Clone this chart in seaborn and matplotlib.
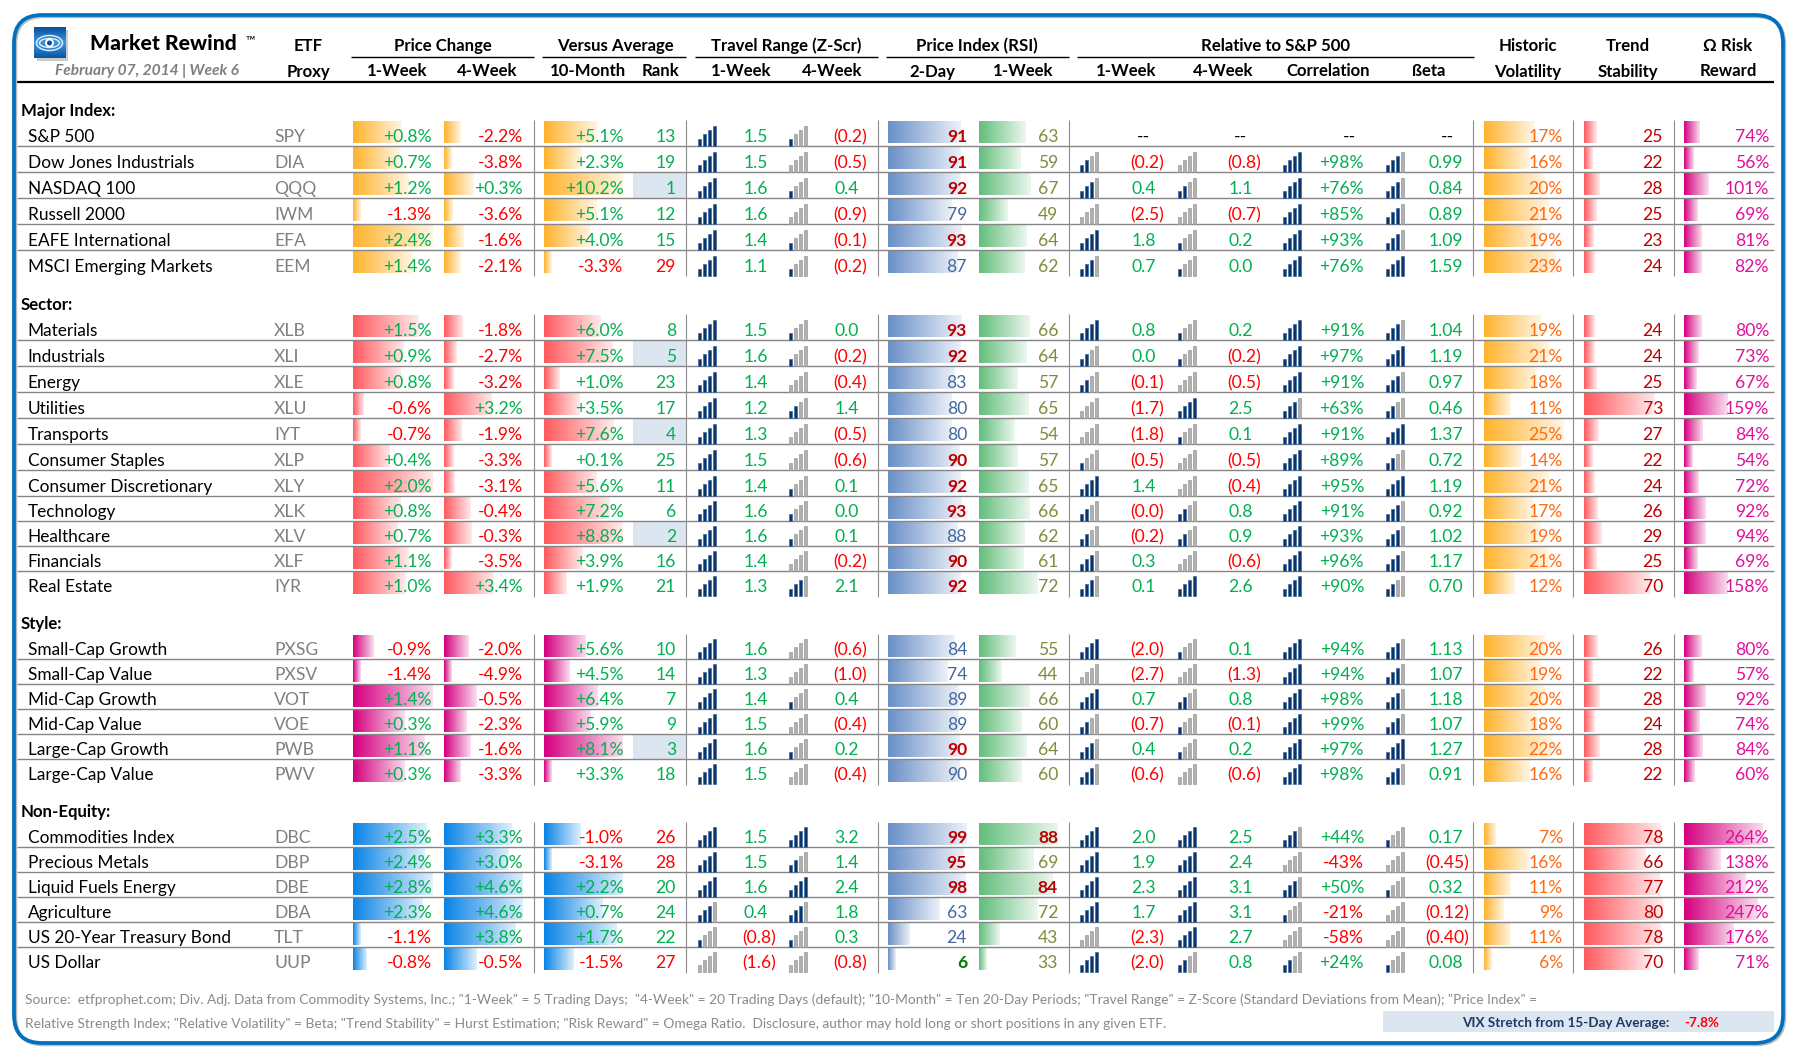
#!/usr/bin/env python3
import math

import matplotlib
matplotlib.use("Agg")
import matplotlib.pyplot as plt
import numpy as np
import pandas as pd
import seaborn as sns
from matplotlib.colors import LinearSegmentedColormap, to_rgb
from matplotlib.patches import Ellipse, FancyBboxPatch, Rectangle

group_names = ["Major Index:", "Sector:", "Style:", "Non-Equity:"]
group_sizes = [6, 11, 6, 6]

names = [
    "S&P 500", "Dow Jones Industrials", "NASDAQ 100", "Russell 2000", "EAFE International", "MSCI Emerging Markets",
    "Materials", "Industrials", "Energy", "Utilities", "Transports", "Consumer Staples", "Consumer Discretionary",
    "Technology", "Healthcare", "Financials", "Real Estate",
    "Small-Cap Growth", "Small-Cap Value", "Mid-Cap Growth", "Mid-Cap Value", "Large-Cap Growth", "Large-Cap Value",
    "Commodities Index", "Precious Metals", "Liquid Fuels Energy", "Agriculture", "US 20-Year Treasury Bond", "US Dollar",
]
tickers = [
    "SPY", "DIA", "QQQ", "IWM", "EFA", "EEM",
    "XLB", "XLI", "XLE", "XLU", "IYT", "XLP", "XLY", "XLK", "XLV", "XLF", "IYR",
    "PXSG", "PXSV", "VOT", "VOE", "PWB", "PWV",
    "DBC", "DBP", "DBE", "DBA", "TLT", "UUP",
]

chg_1w = [.8, .7, 1.2, -1.3, 2.4, 1.4,
          1.5, .9, .8, -.6, -.7, .4, 2.0, .8, .7, 1.1, 1.0,
          -.9, -1.4, 1.4, .3, 1.1, .3,
          2.5, 2.4, 2.8, 2.3, -1.1, -.8]
chg_4w = [-2.2, -3.8, .3, -3.6, -1.6, -2.1,
          -1.8, -2.7, -3.2, 3.2, -1.9, -3.3, -3.1, -.4, -.3, -3.5, 3.4,
          -2.0, -4.9, -.5, -2.3, -1.6, -3.3,
          3.3, 3.0, 4.6, 4.6, 3.8, -.5]
avg_10m = [5.1, 2.3, 10.2, 5.1, 4.0, -3.3,
           6.0, 7.5, 1.0, 3.5, 7.6, .1, 5.6, 7.2, 8.8, 3.9, 1.9,
           5.6, 4.5, 6.4, 5.9, 8.1, 3.3,
           -1.0, -3.1, 2.2, .7, 1.7, -1.5]
rank = [13, 19, 1, 12, 15, 29,
        8, 5, 23, 17, 4, 25, 11, 6, 2, 16, 21,
        10, 14, 7, 9, 3, 18,
        26, 28, 20, 24, 22, 27]
z_1w = [1.5, 1.5, 1.6, 1.6, 1.4, 1.1,
        1.5, 1.6, 1.4, 1.2, 1.3, 1.5, 1.4, 1.6, 1.6, 1.4, 1.3,
        1.6, 1.3, 1.4, 1.5, 1.6, 1.5,
        1.5, 1.5, 1.6, .4, -.8, -1.6]
z_4w = [-.2, -.5, .4, -.9, -.1, -.2,
        0.0, -.2, -.4, 1.4, -.5, -.6, .1, 0.0, .1, -.2, 2.1,
        -.6, -1.0, .4, -.4, .2, -.4,
        3.2, 1.4, 2.4, 1.8, .3, -.8]
rsi_2d = [91, 91, 92, 79, 93, 87,
          93, 92, 83, 80, 80, 90, 92, 93, 88, 90, 92,
          84, 74, 89, 89, 90, 89.9,
          99, 95, 98, 63, 24, 6]
rsi_1w = [63, 59, 67, 49, 64, 62,
          66, 64, 57, 65, 54, 57, 65, 66, 62, 61, 72,
          55, 44, 66, 60, 64, 60,
          88, 69, 84, 72, 43, 33]
rel_1w = [None, -.2, .4, -2.5, 1.8, .7,
          .8, 0.0, -.1, -1.7, -1.8, -.5, 1.4, -0.0, -.2, .3, .1,
          -2.0, -2.7, .7, -.7, .4, -.6,
          2.0, 1.9, 2.3, 1.7, -2.3, -2.0]
rel_4w = [None, -.8, 1.1, -.7, .2, 0.0,
          .2, -.2, -.5, 2.5, .1, -.5, -.4, .8, .9, -.6, 2.6,
          .1, -1.3, .8, -.1, .2, -.6,
          2.5, 2.4, 3.1, 3.1, 2.7, .8]
corr = [None, 98, 76, 85, 93, 76,
        91, 97, 91, 63, 91, 89, 95, 91, 93, 96, 90,
        94, 94, 98, 99, 97, 98,
        44, -43, 50, -21, -58, 24]
beta = [None, .99, .84, .89, 1.09, 1.59,
        1.04, 1.19, .97, .46, 1.37, .72, 1.19, .92, 1.02, 1.17, .70,
        1.13, 1.07, 1.18, 1.07, 1.27, .91,
        .17, -.45, .32, -.12, -.40, .08]
hist_vol = [17, 16, 20, 21, 19, 23,
            19, 21, 18, 11, 25, 14, 21, 17, 19, 21, 12,
            20, 19, 20, 18, 22, 16,
            7, 16, 11, 9, 11, 6]
trend = [25, 22, 28, 25, 23, 24,
         24, 24, 25, 73, 27, 22, 24, 26, 29, 25, 70,
         26, 22, 28, 24, 28, 22,
         78, 66, 77, 80, 78, 70]
omega = [74, 56, 101, 69, 81, 82,
         80, 73, 67, 159, 84, 54, 72, 92, 94, 69, 158,
         80, 57, 92, 74, 84, 60,
         264, 138, 212, 247, 176, 71]

# how many of the four signal bars are dark in each cell
lvl_z1 = [4, 4, 4, 4, 4, 4,
          4, 4, 4, 4, 4, 4, 4, 4, 4, 4, 4,
          4, 4, 4, 4, 4, 4,
          4, 4, 4, 3, 1, 0]
lvl_z4 = [1, 0, 1, 0, 1, 1,
          1, 1, 0, 2, 0, 0, 1, 1, 1, 0, 3,
          0, 0, 1, 0, 1, 0,
          4, 2, 4, 3, 1, 0]
lvl_r1 = [None, 2, 3, 0, 4, 3,
          4, 2, 2, 0, 0, 1, 4, 2, 2, 3, 3,
          4, 0, 4, 2, 3, 3,
          4, 4, 4, 4, 0, 4]
lvl_r4 = [None, 0, 2, 0, 1, 1,
          1, 1, 0, 4, 1, 0, 0, 2, 2, 0, 4,
          1, 0, 2, 1, 1, 0,
          4, 4, 4, 4, 4, 2]
lvl_c = [None, 4, 4, 4, 4, 4,
         4, 4, 4, 3, 4, 4, 4, 4, 4, 4, 4,
         4, 4, 4, 4, 4, 4,
         3, 0, 3, 1, 0, 2]
lvl_b = [None, 3, 3, 3, 3, 4,
         3, 4, 3, 2, 4, 2, 4, 3, 3, 3, 2,
         3, 3, 3, 3, 4, 3,
         1, 0, 1, 0, 0, 1]

# 4-week bar scale in the sheet does not follow the visible min/max
scale_4w = [(-3.8, 9.7), (-3.5, 8.4), (-4.9, 7.8), (-3.2, 4.6)]

vix_stretch = -7.8
footer_1 = ('Source:  etfprophet.com; Div. Adj. Data from Commodity Systems, Inc.; "1-Week" = 5 Trading Days;  '
            '"4-Week" = 20 Trading Days (default); "10-Month" = Ten 20-Day Periods; "Travel Range" = Z-Score '
            '(Standard Deviations from Mean); "Price Index" =')
footer_2 = ('Relative Strength Index; "Relative Volatility" = Beta; "Trend Stability" = Hurst Estimation; '
            '"Risk Reward" = Omega Ratio.  Disclosure, author may hold long or short positions in any given ETF.')

GREEN = "#00B050"
RED = "#FF0000"
GRAY = "#808080"
ORANGE = "#FFB32C"
SALMON = "#FF5A5F"
MAGENTA = "#D5007F"
BLUE = "#0A84E6"
group_colors = [ORANGE, SALMON, MAGENTA, BLUE]
FS = 12.6
HEAD_FS = 12.05
BAR_W = 79

sns.set_style("white")
plt.rcParams["font.family"] = ["Lato", "DejaVu Sans"]

fig = plt.figure(figsize=(18.01, 10.6), dpi=100)
ax = fig.add_axes([0, 0, 1, 1])
ax.set_xlim(0, 1801)
ax.set_ylim(1060, 0)
ax.set_autoscale_on(False)

# layout of the rows
group_tops = [122, 316, 636, 824]
row_steps = [[26] * 5, [26] * 7 + [25] * 3, [25] * 5, [25] * 5]
tops = []
row_group = []
for g, start in enumerate(group_tops):
    tops.append(start)
    row_group.append(g)
    for step in row_steps[g]:
        tops.append(tops[-1] + step)
        row_group.append(g)
tops = np.array(tops, dtype=float)
row_group = np.array(row_group)
centers = tops + 10.75
# lower half of the sheet has slightly shorter rows
base = tops + np.where(tops >= 498, 19, 20)


def put(x, y, s, ha="left", color="black", size=FS, weight="normal", style="normal", z=5):
    ax.text(x, y, s, ha=ha, va="baseline", color=color, fontsize=size, fontweight=weight, fontstyle=style, zorder=z)


def excel_len(values, lo, hi):
    # the sheet's data bars: 10% floor, rest scaled to the column range
    return BAR_W * (0.1 + 0.9 * (np.asarray(values, dtype=float) - lo) / (hi - lo))


def by_group_len(values):
    values = np.asarray(values, dtype=float)
    out = np.zeros(len(values))
    for g in range(4):
        m = row_group == g
        out[m] = excel_len(values[m], values[m].min(), values[m].max())
    return out


def data_bars(lengths, x0, colors):
    n = len(ax.patches)
    df = pd.DataFrame({"len": lengths, "y": centers})
    sns.barplot(data=df, x="len", y="y", orient="y", native_scale=True, width=0.86, color="white",
                errorbar=None, left=x0, ax=ax)
    for patch, c in zip(list(ax.patches)[n:], colors):
        x, y = patch.get_x(), patch.get_y()
        w, h = patch.get_width(), patch.get_height()
        rgb = np.array(to_rgb(c))
        cmap = LinearSegmentedColormap.from_list("fade", [rgb, rgb + (1 - rgb) * 0.87])
        ax.imshow(np.linspace(0, 1, 64)[None, :], extent=[x, x + w, y + h, y], aspect="auto", cmap=cmap, zorder=1)
        patch.set_visible(False)


per_group = [group_colors[g] for g in row_group]
len_4w = np.zeros(len(chg_4w))
for g, (lo, hi) in enumerate(scale_4w):
    m = row_group == g
    len_4w[m] = excel_len(np.array(chg_4w)[m], lo, hi)

data_bars(by_group_len(chg_1w), 353, per_group)
data_bars(len_4w, 444, per_group)
data_bars(by_group_len(avg_10m), 544, per_group)
data_bars(excel_len(rsi_2d, 6, 100), 888, ["#6A90C8"] * 29)
data_bars(excel_len(rsi_1w, 33, 88), 979, ["#63BE7B"] * 29)
data_bars(excel_len(hist_vol, 6, 25), 1484, [ORANGE] * 29)
data_bars(excel_len(trend, 21.5, 80), 1584, [SALMON] * 29)
data_bars(excel_len(omega, 52, 264), 1684, [MAGENTA] * 29)

# rank highlight
for i, r in enumerate(rank):
    if r <= 5:
        ax.add_patch(Rectangle((633, tops[i] - 1.7), 53, base[i] - tops[i] + 5.6, fc="#DCE6F1", ec="none", zorder=0.5))

# row rules and column separators
for i in range(len(tops) - 1):
    if row_group[i] == row_group[i + 1]:
        ax.plot([17, 1774], [tops[i + 1] - 1.7] * 2, color="#858585", lw=1.0, zorder=3, solid_capstyle="butt")
for g in range(4):
    m = tops[row_group == g]
    for x in [533.5, 686, 877.5, 1068.5, 1473, 1573, 1673.5]:
        ax.plot([x, x], [m[0] - 2, m[-1] + 24], color="#8C8C8C", lw=0.8, zorder=3, solid_capstyle="butt")


def icons(levels, x0):
    heights = [7.5, 12.5, 16, 20]
    for i, lv in enumerate(levels):
        if lv is None:
            continue
        for b, h in enumerate(heights):
            dark = b < lv
            ax.bar(x0 + 1.7 + 5.0 * b, -h, bottom=base[i] + 4, width=3.3,
                   color="#0D3468" if dark else "#B0B0B0", edgecolor="#3D6A9E" if dark else "#9A9A9A",
                   linewidth=0.5, zorder=4)


icons(lvl_z1, 698)
icons(lvl_z4, 789)
icons(lvl_r1, 1080)
icons(lvl_r4, 1177.5)
icons(lvl_c, 1283)
icons(lvl_b, 1386)


def is_neg(v):
    return math.copysign(1, v) < 0


def signed_col(values, right):
    for i, v in enumerate(values):
        put(right, base[i], f"{v:+.1f}%", ha="right", color=RED if v < 0 else GREEN)


def paren_col(values, right, pad=8, digits=1, blank_x=None):
    for i, v in enumerate(values):
        if v is None:
            put(blank_x, base[i], "--", ha="center")
        elif is_neg(v):
            put(right, base[i], f"({abs(v):.{digits}f})", ha="right", color=RED)
        else:
            put(right - pad, base[i], f"{v:.{digits}f}", ha="right", color=GREEN)


for i in range(29):
    y = base[i]
    put(27.5, y, names[i], size=12.45)
    put(274, y, tickers[i], color=GRAY)
    put(676, y, str(rank[i]), ha="right", color=GREEN if rank[i] <= 25 else RED)

    v = rsi_2d[i]
    if v >= 90:
        put(967, y, f"{v:.0f}", ha="right", color="#C00000", weight="bold")
    elif v < 10:
        put(967, y, f"{v:.0f}", ha="right", color="#007A00", weight="bold")
    else:
        put(967, y, f"{v:.0f}", ha="right", color="#44689E")

    v = rsi_1w[i]
    if v >= 80:
        put(1058, y, f"{v}", ha="right", color="#C00000", weight="bold")
    else:
        put(1058, y, f"{v}", ha="right", color="#7F8B3C")

    if corr[i] is None:
        put(1349, y, "--", ha="center")
    else:
        put(1364, y, f"{corr[i]:+d}%", ha="right", color=RED if corr[i] < 0 else GREEN)

    put(1563, y, f"{hist_vol[i]}%", ha="right", color="#FF6A13")
    put(1663, y, f"{trend[i]}", ha="right", color="#C00000")
    put(1769, y, f"{omega[i]}%", ha="right", color="#E0109A")

signed_col(chg_1w, 432)
signed_col(chg_4w, 523)
signed_col(avg_10m, 623.5)
paren_col(z_1w, 776)
paren_col(z_4w, 867)
paren_col(rel_1w, 1164, blank_x=1143)
paren_col(rel_4w, 1261, blank_x=1240)
paren_col(beta, 1469, pad=6, digits=2, blank_x=1447)

for name, y in zip(group_names, [116, 310, 629, 817]):
    put(21, y, name, weight="bold", size=HEAD_FS)

# header block
top_heads = [("ETF", 308), ("Price Change", 443), ("Versus Average", 615), ("Travel Range (Z-Scr)", 786),
             ("Price Index (RSI)", 977), ("Relative to S&P 500", 1275), ("Historic", 1528), ("Trend", 1628),
             ("Ω Risk", 1728)]
sub_heads = [("Proxy", 308), ("1-Week", 397), ("4-Week", 487.5), ("10-Month", 587.5), ("Rank", 660.5),
             ("1-Week", 741), ("4-Week", 832), ("2-Day", 932), ("1-Week", 1023), ("1-Week", 1126),
             ("4-Week", 1223), ("Correlation", 1328), ("ßeta", 1429), ("Volatility", 1528),
             ("Stability", 1628), ("Reward", 1728)]
for s, x in top_heads:
    put(x, 51, s, ha="center", weight="bold", size=HEAD_FS)
for s, x in sub_heads:
    put(x, 76.5, s, ha="center", weight="bold", size=HEAD_FS)
for x0, x1 in [(351, 533.5), (542, 686), (694.5, 878), (886, 1069), (1077, 1474)]:
    ax.plot([x0, x1], [56.5, 56.5], color="black", lw=1.0, zorder=3, solid_capstyle="butt")
ax.plot([17, 1774], [81.5, 81.5], color="black", lw=1.6, zorder=3, solid_capstyle="butt")

put(90, 50, "Market Rewind", size=15.2, weight=900)
put(245, 44, "™", size=9, weight="normal")
put(55, 75.5, "February 07, 2014 | Week 6", color="#7F7F7F", size=11.2, weight="bold", style="italic")

# logo
ax.add_patch(Rectangle((37, 30), 31, 31, fc="#9A9A9A", ec="none", alpha=0.5, zorder=1))
cm = LinearSegmentedColormap.from_list("logo", ["#0A4F9E", "#3A97DF", "#0A56A6"])
ax.imshow(np.linspace(0, 1, 32)[:, None], extent=[34, 65, 58, 27], aspect="auto", cmap=cm, zorder=2)
for w, h, lw in [(26, 15, 1.1), (20, 9, 1.1)]:
    ax.add_patch(Ellipse((49.5, 43), w, h, fc="none", ec="#DCEBFA", lw=lw, zorder=3))
ax.add_patch(Ellipse((49.5, 43), 7, 7, fc="#0A4F9E", ec="white", lw=1.4, zorder=4))

# footer
put(25, 1004, footer_1, color="#8A8A8A", size=9.95)
put(25, 1027.5, footer_2, color="#8A8A8A", size=9.95)
ax.add_patch(Rectangle((1383, 1010.7), 391, 21, fc="#DCE6F1", ec="none", zorder=1))
put(1462, 1027, "VIX Stretch from 15-Day Average:", color="#1F3864", size=9.7, weight="bold")
put(1684, 1027, f"{vix_stretch:.1f}%", color=RED, size=9.7, weight="bold")

# rounded frame with a soft shadow
ax.add_patch(FancyBboxPatch((15.5, 16.5), 1769, 1028, boxstyle="round,pad=0,rounding_size=28",
                            fc="none", ec="#BBBBBB", lw=2.5, zorder=5.5))
ax.add_patch(FancyBboxPatch((14, 15), 1769, 1028, boxstyle="round,pad=0,rounding_size=28",
                            fc="none", ec="#0070C0", lw=2.7, zorder=6))

ax.set_xlim(0, 1801)
ax.set_ylim(1060, 0)
ax.set(xlabel="", ylabel="")
ax.axis("off")
fig.savefig("out.png", dpi=100, facecolor="white")
